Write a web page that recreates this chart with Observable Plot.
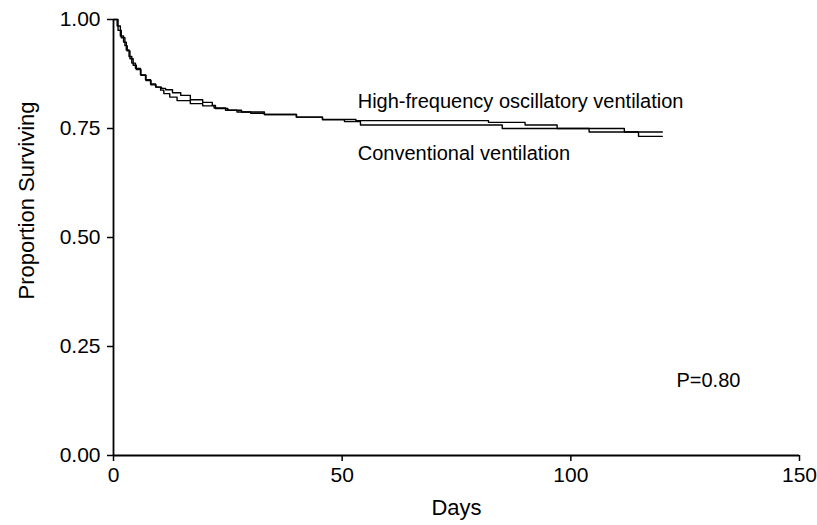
<!DOCTYPE html>
<html>
<head>
<meta charset="utf-8">
<script src="https://cdn.jsdelivr.net/npm/d3@7"></script>
<script src="https://cdn.jsdelivr.net/npm/@observablehq/plot@0.6"></script>
<style>
  body { margin: 0; background: #fff; }
  svg { font-family: "Liberation Sans", Arial, sans-serif; }
</style>
</head>
<body>
<div id="chart"></div>
<script>
const hfovDays = [0, 0.8, 1.5, 2.2, 2.8, 3.4, 4.0, 4.8, 5.9, 7.0, 8.1, 9.2, 10.3, 11.0, 12.3, 13.9, 16.8, 19.5, 22, 24.5, 27, 30, 33, 40, 45.7, 53, 82, 90, 97, 111.7, 120];
const hfovSurv = [1, 0.985, 0.962, 0.948, 0.93, 0.915, 0.900, 0.888, 0.873, 0.862, 0.852, 0.845, 0.838, 0.830, 0.822, 0.814, 0.807, 0.802, 0.797, 0.792, 0.788, 0.785, 0.782, 0.776, 0.771, 0.768, 0.764, 0.758, 0.750, 0.742, 0.742];

const convDays = [0, 1.0, 1.7, 2.5, 3.0, 3.6, 4.3, 5.0, 6.0, 7.1, 8.2, 9.3, 10.5, 11.4, 12.9, 14.7, 16.8, 19.5, 21.6, 22.3, 25, 28, 33, 40, 45.7, 50.5, 54, 85, 104, 114.8, 120];
const convSurv = [1, 0.975, 0.958, 0.94, 0.928, 0.91, 0.895, 0.885, 0.872, 0.86, 0.85, 0.845, 0.842, 0.839, 0.832, 0.826, 0.816, 0.810, 0.803, 0.796, 0.792, 0.788, 0.782, 0.776, 0.770, 0.766, 0.758, 0.750, 0.742, 0.732, 0.732];

const xTicks = [0, 50, 100, 150];
const yTicks = [0, 0.25, 0.5, 0.75, 1];

const labels = [
  {day: 53.4, surv: 0.812, text: "High-frequency oscillatory ventilation"},
  {day: 53.4, surv: 0.693, text: "Conventional ventilation"},
  {day: 123.1, surv: 0.172, text: "P=0.80"}
];

const hfov = hfovDays.map((d, i) => ({day: d, surv: hfovSurv[i], group: "HFOV"}));
const conv = convDays.map((d, i) => ({day: d, surv: convSurv[i], group: "CV"}));

const chart = Plot.plot({
  width: 817,
  height: 525,
  marginLeft: 113,
  marginRight: 18,
  marginTop: 19,
  marginBottom: 70,
  style: {fontFamily: "'Liberation Sans', Arial, sans-serif", fontSize: "21px", color: "#000", background: "#fff"},
  x: {domain: [0, 150], ticks: xTicks},
  y: {domain: [0, 1], ticks: yTicks, tickFormat: d3.format(".2f")},
  marks: [
    Plot.axisX({ticks: xTicks, tickSize: 6, tickPadding: 6, label: null, fontSize: 21, stroke: "#000", strokeWidth: 1.5}),
    Plot.axisY({ticks: yTicks, tickFormat: d3.format(".2f"), tickSize: 6, tickPadding: 7, label: null, fontSize: 21, stroke: "#000", strokeWidth: 1.5}),
    Plot.ruleX([0], {stroke: "#000", strokeWidth: 1.8}),
    Plot.ruleY([0], {stroke: "#000", strokeWidth: 1.8}),
    Plot.text(["Days"], {frameAnchor: "bottom", dy: 59, fontSize: 22, fill: "#000"}),
    Plot.text(["Proportion Surviving"], {frameAnchor: "left", textAnchor: "middle", dx: -87, dy: -37, rotate: -90, fontSize: 22, fill: "#000"}),
    Plot.line(hfov, {x: "day", y: "surv", curve: "step-after", stroke: "#000", strokeWidth: 1.4}),
    Plot.line(conv, {x: "day", y: "surv", curve: "step-after", stroke: "#000", strokeWidth: 1.4}),
    Plot.text(labels, {x: "day", y: "surv", text: "text", textAnchor: "start", fontSize: 20, fill: "#000"})
  ]
});
document.getElementById("chart").appendChild(chart);
</script>
</body>
</html>
